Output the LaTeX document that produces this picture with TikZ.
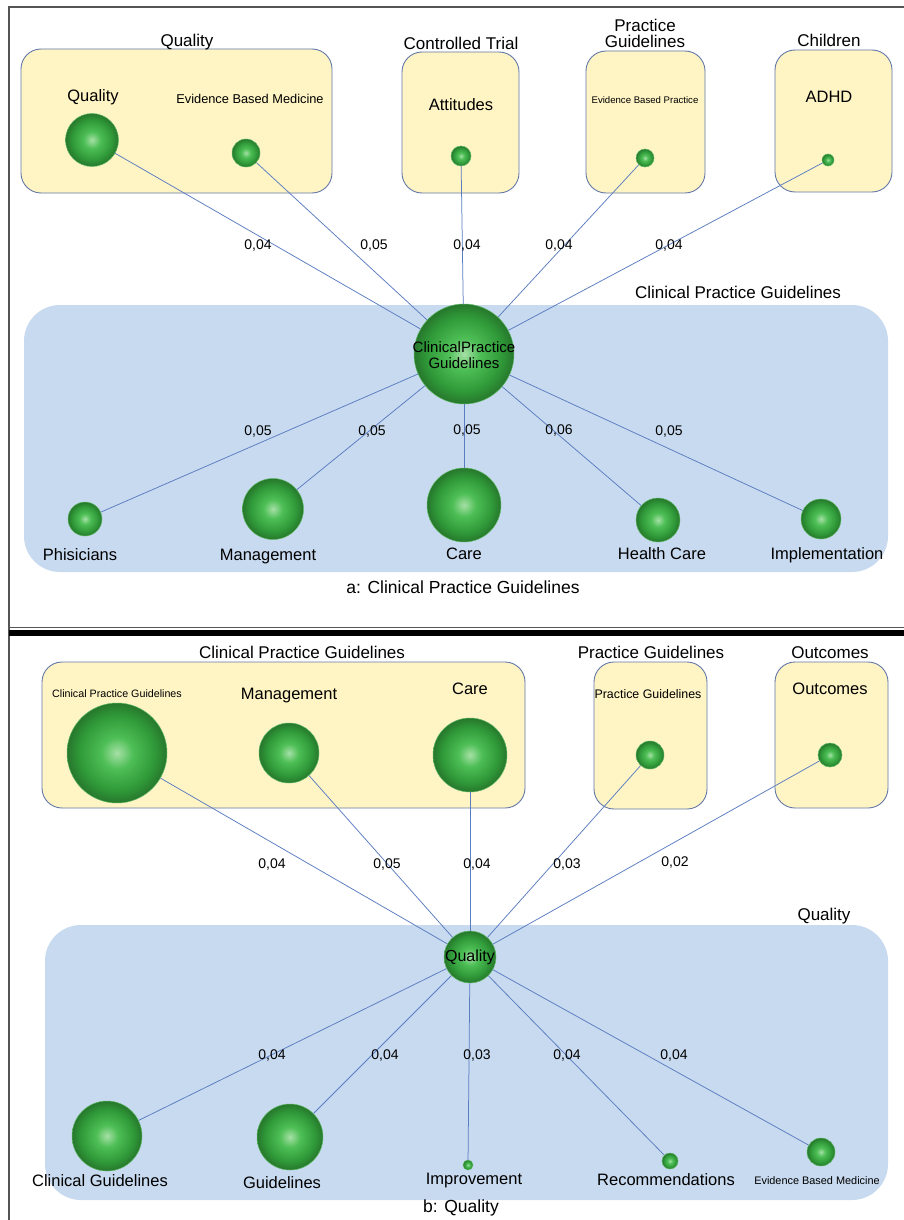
\documentclass[tikz,border=0pt]{standalone}
\usepackage{fontspec}
\setmainfont{Liberation Sans}
\definecolor{boxfill}{HTML}{FEF4C4}
\definecolor{boxline}{HTML}{6478A8}
\definecolor{regfill}{HTML}{C8DAEF}
\definecolor{edgecol}{HTML}{5A7CC0}
\definecolor{framecol}{HTML}{555555}
\definecolor{sphA}{HTML}{A6E0A6}
\definecolor{sphB}{HTML}{4DBE55}
\definecolor{sphC}{HTML}{2F9838}
\definecolor{sphD}{HTML}{27772C}
\definecolor{sphO}{HTML}{5DB864}
\pgfdeclareradialshading{sphereshade}{\pgfpoint{0bp}{0bp}}{color(0bp)=(sphA); color(8bp)=(sphB); color(19bp)=(sphC); color(25bp)=(sphD); color(50bp)=(sphD)}
\tikzset{
 grp/.style={fill=boxfill, draw=boxline, line width=0.9pt, rounded corners=20pt},
 region/.style={fill=regfill, rounded corners=36pt},
 sph/.style={circle, inner sep=0pt, minimum size=#1, shading=sphereshade, draw=sphO, line width=0.5pt},
 con/.style={draw=edgecol, line width=0.75pt},
 ttl/.style={anchor=base, inner sep=0pt, font=\fontsize{17}{16.5}\selectfont},
 lbl/.style={anchor=base, inner sep=0pt, font=\fontsize{16.5}{17}\selectfont},
 sml/.style={anchor=base, inner sep=0pt, font=\fontsize{#1}{#1}\selectfont},
 elab/.style={anchor=base, inner sep=0pt, font=\fontsize{14}{15}\selectfont},
 capt/.style={anchor=base, inner sep=0pt, font=\fontsize{17.5}{18}\selectfont},
}
\begin{document}
\begin{tikzpicture}[x=1pt,y=-1pt]
\path[use as bounding box, fill=white] (0,0) rectangle (904,1220);
% frame
\draw[framecol, line width=1.2pt] (9,1220) -- (9,7) -- (904,7);
\draw[framecol, line width=1pt] (9,627.5) -- (904,627.5);
\fill[black] (9,630) rectangle (904,636);

% ================= panel a =================
\path[region] (24,305) rectangle (888,572);
\node[ttl] (rtA) at (738,298) {Clinical Practice Guidelines};
\path[grp] (21,49) rectangle (332,193);
\path[grp] (402,52) rectangle (519,193);
\path[grp] (586,51) rectangle (705,193);
\path[grp] (775,50) rectangle (892,192);
\node[ttl] (tQ) at (187,47) {Quality};
\node[ttl] (tCT) at (461,50) {Controlled Trial};
\node[ttl, anchor=north, align=center] (tPG) at (645,18.6) {Practice\\Guidelines};
\node[ttl] (tCh) at (829,47) {Children};

\node[sph=53] (q) at (92,140) {};
\node[sph=28] (ebm) at (246,153) {};
\node[sph=20] (att) at (461,156) {};
\node[sph=18] (ebp) at (645,158) {};
\node[sph=12] (adhd) at (828,160) {};
\node[sph=100] (cpg) at (464,354) {};
\node[sph=34] (phi) at (85,519) {};
\node[sph=61] (mgm) at (273,509) {};
\node[sph=74] (care) at (464,505) {};
\node[sph=44] (hc) at (658,520) {};
\node[sph=40] (imp) at (821,519) {};

\foreach \n in {q,ebm,att,ebp,adhd,phi,mgm,care,hc,imp} {\draw[con] (\n) -- (cpg);}

\node[lbl] (lq) at (93,102) {Quality};
\node[sml=12.8] (lebm) at (250,104) {Evidence Based Medicine};
\node[lbl] (latt) at (461,111) {Attitudes};
\node[sml=9.6] (lebp) at (645,104) {Evidence Based Practice};
\node[lbl] (ladhd) at (829,103) {ADHD};
\node[align=center, inner sep=0pt, font=\fontsize{15}{16}\selectfont] (cpgt) at (464,355) {ClinicalPractice\\Guidelines};
\node[lbl] (lphi) at (80,560) {Phisicians};
\node[lbl] (lmgm) at (268,560) {Management};
\node[lbl] (lcare) at (464,559) {Care};
\node[lbl] (lhc) at (662,559) {Health Care};
\node[lbl] (limp) at (827,559) {Implementation};

\node[elab] (e1) at (258,249) {0,04};
\node[elab] (e2) at (374,249) {0,05};
\node[elab] (e3) at (467,249) {0,04};
\node[elab] (e4) at (559,249) {0,04};
\node[elab] (e5) at (669,249) {0,04};
\node[elab] (e6) at (258,435) {0,05};
\node[elab] (e7) at (372,435) {0,05};
\node[elab] (e8) at (467,434) {0,05};
\node[elab] (e9) at (559,434) {0,06};
\node[elab] (e10) at (669,435) {0,05};
\node[capt] (capA) at (463,593) {a: Clinical Practice Guidelines};

% ================= panel b =================
\path[region] (45,925) rectangle (888,1200);
\node[ttl] (rtB) at (824,920) {Quality};
\path[grp] (42,662) rectangle (525,808);
\path[grp] (594,662) rectangle (707,809);
\path[grp] (775,662) rectangle (888,808);
\node[ttl] (tCPG2) at (302,658) {Clinical Practice Guidelines};
\node[ttl] (tPG2) at (651,658) {Practice Guidelines};
\node[ttl] (tOut2) at (830,658) {Outcomes};

\node[sph=100] (cpg2) at (117,753) {};
\node[sph=60] (mgm2) at (289,753) {};
\node[sph=74] (care2) at (470,755) {};
\node[sph=28] (pg2) at (650,755) {};
\node[sph=24] (out2) at (830,755) {};
\node[sph=52] (qual) at (470,957) {};
\node[sph=70] (cg) at (107,1136) {};
\node[sph=66] (gui) at (290,1137) {};
\node[sph=10] (impr) at (468,1165) {};
\node[sph=16] (rec) at (670,1161) {};
\node[sph=28] (ebm2) at (821,1152) {};

\foreach \n in {cpg2,mgm2,care2,pg2,out2,cg,gui,impr,rec,ebm2} {\draw[con] (\n) -- (qual);}

\node[sml=10.7] (lcpg2) at (117,697) {Clinical Practice Guidelines};
\node[lbl] (lmgm2) at (289,699) {Management};
\node[lbl] (lcare2) at (470,694) {Care};
\node[sml=12.4] (lpg2) at (648,698) {Practice Guidelines};
\node[lbl] (lout2) at (830,694) {Outcomes};
\node[inner sep=0pt, font=\fontsize{16}{16}\selectfont] (qualt) at (470,957) {Quality};
\node[lbl] (lcg) at (100,1186) {Clinical Guidelines};
\node[lbl] (lgui) at (282,1188) {Guidelines};
\node[lbl] (limpr) at (474,1184) {Improvement};
\node[lbl] (lrec) at (666,1185) {Recommendations};
\node[sml=10.9] (lebm2) at (817,1184) {Evidence Based Medicine};

\node[elab] (f1) at (272,868) {0,04};
\node[elab] (f2) at (387,868) {0,05};
\node[elab] (f3) at (477,868) {0,04};
\node[elab] (f4) at (567,868) {0,03};
\node[elab] (f5) at (675,866) {0,02};
\node[elab] (f6) at (272,1059) {0,04};
\node[elab] (f7) at (385,1059) {0,04};
\node[elab] (f8) at (477,1059) {0,03};
\node[elab] (f9) at (567,1059) {0,04};
\node[elab] (f10) at (674,1059) {0,04};
\node[capt] (capB) at (461,1212) {b: Quality};
\end{tikzpicture}
\end{document}
